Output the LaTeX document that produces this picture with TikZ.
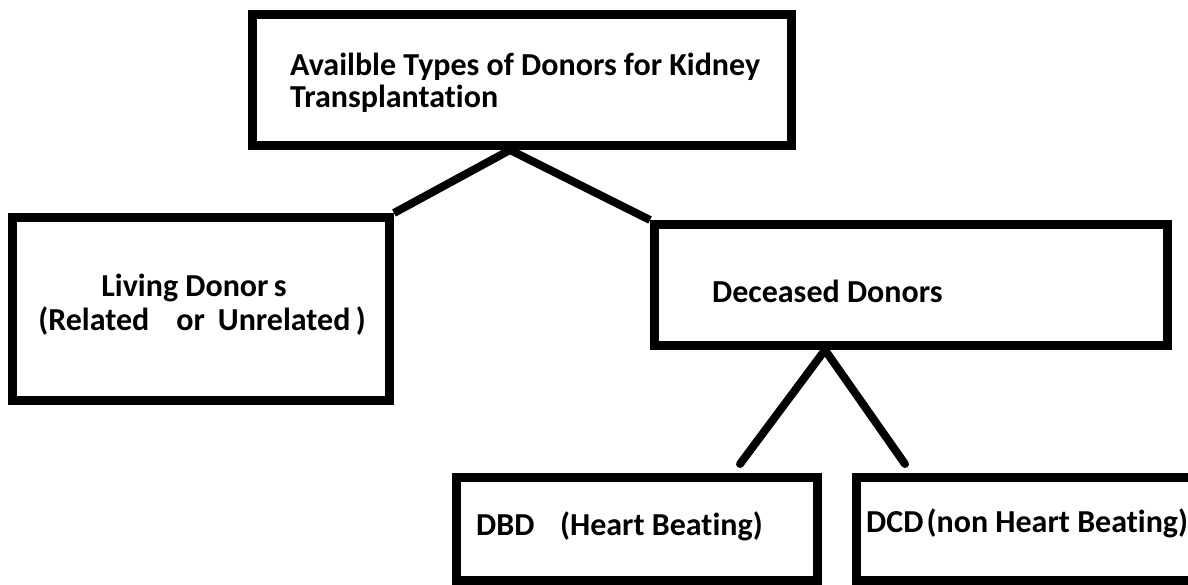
\documentclass[tikz,border=0pt]{standalone}
\usepackage{fontspec}
\setmainfont{Carlito}[Ligatures=NoCommon]
\begin{document}
\begin{tikzpicture}[x=1pt,y=-1pt,
  box/.style={draw=black,line width=9pt,minimum width=#1,inner sep=0pt},
  conn/.style={draw=black,line width=8pt},
  lbl/.style={font=\fontsize{32}{31}\selectfont\bfseries,inner sep=0pt}]
\useasboundingbox (0,0) rectangle (1188,585);
\node[box=539pt,minimum height=131pt] (top) at (522,80) {};
\node[box=377pt,minimum height=183pt] (living) at (201,309) {};
\node[box=513pt,minimum height=121pt] (dec) at (911,285) {};
\node[box=361pt,minimum height=103pt] (dbd) at (637,529) {};
\node[box=340pt,minimum height=103pt] (dcd) at (1026,529) {};
\node[lbl,anchor=base west] (toptext) at (290,76) {Availble Types of Donors for Kidney};
\node[lbl,anchor=base west] (toptext2) at (290,108) {Transplantation};
\node[lbl,anchor=base] (livtext) at (194,296) {Living Donor\,s};
\node[lbl,anchor=base] (livtext2) at (202,330) {(Related\hspace{0.85em}or\hspace{0.4em}Unrelated\,)};
\node[lbl,anchor=base west] (dectext) at (712,302) {Deceased Donors};
\node[lbl,anchor=base west] (dbdtext) at (476,535) {DBD\hspace{0.8em}(Heart Beating)};
\node[lbl,anchor=base west] (dcdtext) at (866,532) {DCD\hspace{0.1em}(non Heart Beating)};
\coordinate (apex1) at (510,150);
\coordinate (apex2) at (825,350);
\coordinate (e1) at (740,464);
\coordinate (e2) at (905,464);
\draw[conn] (living.north east) -- (apex1) -- (dec.north west);
\draw[conn,line cap=round] (e1) -- (apex2) -- (e2);
\end{tikzpicture}
\end{document}
